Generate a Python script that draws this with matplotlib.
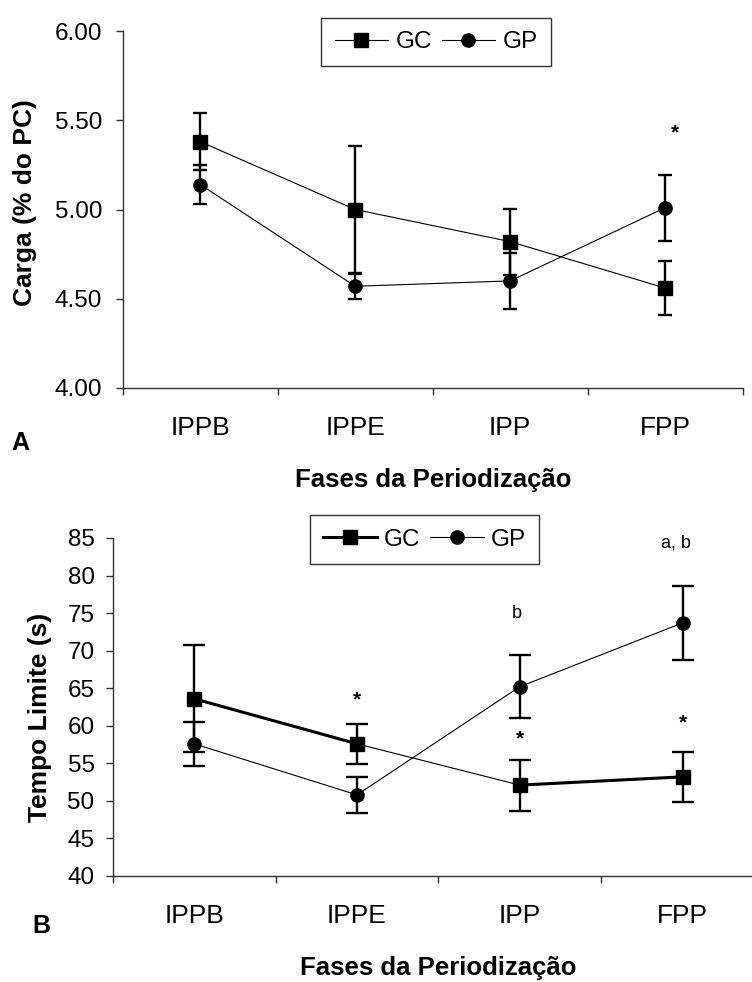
import matplotlib
matplotlib.use("Agg")
import matplotlib.pyplot as plt
import numpy as np

plt.rcParams['font.family'] = ['Liberation Sans', 'DejaVu Sans']

phases = ['IPPB', 'IPPE', 'IPP', 'FPP']

# carga (% do PC)
load_gc = [5.38, 5.00, 4.82, 4.56]
load_gc_err = [0.16, 0.355, 0.185, 0.15]
load_gp = [5.14, 4.57, 4.60, 5.01]
load_gp_err = [0.11, 0.07, 0.155, 0.185]

# tempo limite (s)
tlim_gc = [63.6, 57.6, 52.1, 53.2]
tlim_gc_err = [7.1, 2.7, 3.4, 3.3]
tlim_gp = [57.6, 50.8, 65.2, 73.7]
tlim_gp_err = [2.9, 2.4, 4.2, 4.9]

# significance marks: (x, y, text)
load_marks = [(3.06, 5.43, '*')]
tlim_marks = [(1.0, 63.5, '*'), (2.0, 58.2, '*'), (3.0, 60.4, '*'),
              (1.98, 75.0, 'b'), (2.96, 84.4, 'a, b')]

x = np.arange(len(phases))
W, H = 752, 982


def style_axes(ax, yticks, fmt, ypad):
    for side in ['top', 'right']:
        ax.spines[side].set_visible(False)
    for side in ['left', 'bottom']:
        ax.spines[side].set_color('#333333')
        ax.spines[side].set_linewidth(1.0)
    ax.set_xlim(-0.5, len(phases) - 0.5)
    ax.set_xticks(np.arange(-0.5, len(phases)))
    ax.set_xticklabels([])
    ax.set_xticks(x, minor=True)
    ax.set_xticklabels(phases, minor=True, fontsize=19)
    ax.tick_params(axis='x', which='major', length=5, width=1, color='#333333')
    ax.tick_params(axis='x', which='minor', length=0, pad=20)
    ax.set_yticks(yticks)
    ax.set_yticklabels([fmt % v for v in yticks], fontsize=17.5)
    ax.tick_params(axis='y', length=4.7, width=1, color='#333333', pad=ypad)


def draw_series(ax, y, err, marker, capsize, lw=0.8):
    ax.plot(x, y, color='black', lw=lw, zorder=2)
    ax.errorbar(x, y, yerr=err, fmt='none', ecolor='black',
                elinewidth=1.7, capsize=capsize, capthick=1.7, zorder=3)
    ax.plot(x, y, linestyle='none', marker=marker, color='black',
            markersize=9.5, zorder=4)


def add_legend(ax, h_gc, h_gp, cx, cy):
    leg = ax.legend([h_gc, h_gp], ['GC', 'GP'], ncol=2, loc='center',
                    bbox_to_anchor=(cx / W, 1 - cy / H), bbox_transform=fig.transFigure,
                    fontsize=17.5, handlelength=2.2, handletextpad=0.3,
                    columnspacing=0.4, borderpad=0.55, fancybox=False,
                    framealpha=1, edgecolor='#333333')
    leg.get_frame().set_linewidth(1.0)
    return leg


fig = plt.figure(figsize=(W / 100, H / 100), dpi=100)

# panel A
ax1 = fig.add_axes([122.7 / W, 1 - 388 / H, 620 / W, 357 / H])
draw_series(ax1, load_gc, load_gc_err, 's', 5)
draw_series(ax1, load_gp, load_gp_err, 'o', 5)
ax1.set_ylim(4.0, 6.0)
style_axes(ax1, np.arange(4.0, 6.01, 0.5), '%.2f', 10)
for mx, my, mt in load_marks:
    ax1.text(mx, my, mt, ha='center', va='center', fontsize=15, fontweight='bold')

add_legend(ax1,
           plt.Line2D([], [], color='black', lw=0.8, marker='s', markersize=9.5),
           plt.Line2D([], [], color='black', lw=0.8, marker='o', markersize=9.5),
           436.2, 42)

fig.text(25 / W, 1 - 203 / H, 'Carga (% do PC)', rotation=90, ha='center',
         va='center', fontsize=19, fontweight='bold')
fig.text(433 / W, 1 - 480 / H, 'Fases da Periodização', ha='center',
         va='center', fontsize=18.5, fontweight='bold')
fig.text(20 / W, 1 - 443 / H, 'A', ha='center', va='center',
         fontsize=18, fontweight='bold')

# panel B
ax2 = fig.add_axes([112.7 / W, 1 - 876 / H, 651.3 / W, 338 / H])
draw_series(ax2, tlim_gc, tlim_gc_err, 's', 8)
draw_series(ax2, tlim_gp, tlim_gp_err, 'o', 8)
# heavier GC line between the first and last pairs of phases
ax2.plot(x[:2], tlim_gc[:2], color='black', lw=2.2, zorder=2)
ax2.plot(x[2:], tlim_gc[2:], color='black', lw=2.2, zorder=2)
ax2.set_ylim(40, 85)
style_axes(ax2, np.arange(40, 86, 5), '%d', 8.4)
for mx, my, mt in tlim_marks:
    if mt == '*':
        ax2.text(mx, my, mt, ha='center', va='center', fontsize=15, fontweight='bold')
    else:
        ax2.text(mx, my, mt, ha='center', va='center', fontsize=13)

add_legend(ax2,
           plt.Line2D([], [], color='black', lw=2.2, marker='s', markersize=9.5),
           plt.Line2D([], [], color='black', lw=0.8, marker='o', markersize=9.5),
           424.5, 539.5)

fig.text(40 / W, 1 - 717 / H, 'Tempo Limite (s)', rotation=90, ha='center',
         va='center', fontsize=19, fontweight='bold')
fig.text(438 / W, 1 - 968 / H, 'Fases da Periodização', ha='center',
         va='center', fontsize=18.5, fontweight='bold')
fig.text(41 / W, 1 - 926 / H, 'B', ha='center', va='center',
         fontsize=18, fontweight='bold')

fig.savefig('out.png', dpi=100)
